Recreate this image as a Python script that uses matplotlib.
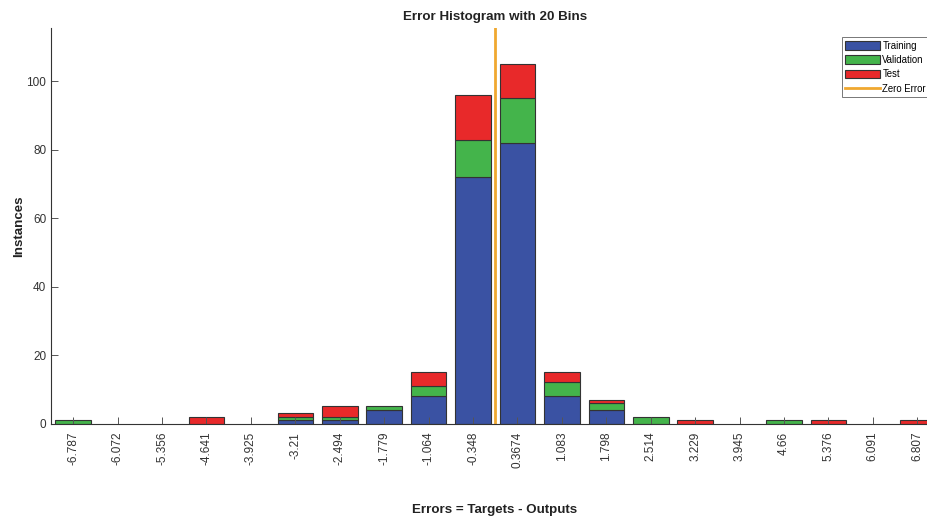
import matplotlib
matplotlib.use("Agg")
import matplotlib.pyplot as plt
import numpy as np

plt.rcParams['font.family'] = ['Liberation Sans', 'DejaVu Sans']

bin_labels = ['-6.787', '-6.072', '-5.356', '-4.641', '-3.925', '-3.21', '-2.494',
              '-1.779', '-1.064', '-0.348', '0.3674', '1.083', '1.798', '2.514',
              '3.229', '3.945', '4.66', '5.376', '6.091', '6.807']
training   = [0, 0, 0, 0, 0, 1, 1, 4, 8, 72, 82, 8, 4, 0, 0, 0, 0, 0, 0, 0]
validation = [1, 0, 0, 0, 0, 1, 1, 1, 3, 11, 13, 4, 2, 2, 0, 0, 1, 0, 0, 0]
test       = [0, 0, 0, 2, 0, 1, 3, 0, 4, 13, 10, 3, 1, 0, 1, 0, 0, 1, 0, 1]
zero_error = 0.0

c_train = '#3a52a3'
c_val = '#44b44b'
c_test = '#e8292a'
c_zero = '#f0a830'

centers = np.array([float(s) for s in bin_labels])
idx = np.arange(1, len(bin_labels) + 1)
tr = np.array(training)
va = np.array(validation)
te = np.array(test)

fig = plt.figure(figsize=(9.28, 5.17), dpi=100)
ax = fig.add_axes([51 / 928, 93.5 / 517, 888.5 / 928, 395.2 / 517])

w = 0.8
ec = '#333333'
lw = 0.8
h = []
for vals, bottom, col, lab in [(tr, 0 * tr, c_train, 'Training'),
                               (va, tr, c_val, 'Validation'),
                               (te, tr + va, c_test, 'Test')]:
    m = vals > 0
    b = ax.bar(idx[m], vals[m], w, bottom=bottom[m], color=col, edgecolor=ec,
               linewidth=lw, label=lab)
    h.append(b)

zpos = np.interp(zero_error, centers, idx)
zl = ax.axvline(zpos, color=c_zero, linewidth=2, label='Zero Error')
h.append(zl)

total = tr + va + te
ax.set_xlim(0.5, len(bin_labels) + 0.5)
ax.set_ylim(0, total.max() * 1.1)
ax.set_xticks(idx)
ax.set_xticklabels(bin_labels, rotation=90, fontsize=8.5, color='#333333')
ax.set_yticks([0, 20, 40, 60, 80, 100])
ax.set_yticklabels(['0', '20', '40', '60', '80', '100'], fontsize=8.5, color='#333333')
ax.tick_params(direction='in', length=5, width=0.7, colors='#555555', labelcolor='#333333')
ax.tick_params(axis='x', pad=6)
for s in ['top', 'right']:
    ax.spines[s].set_visible(False)
for s in ['left', 'bottom']:
    ax.spines[s].set_color('#333333')
    ax.spines[s].set_linewidth(0.8)

ax.set_title('Error Histogram with 20 Bins', fontsize=9.6, fontweight='bold', color='#222222', pad=6)
ax.set_ylabel('Instances', fontsize=9.6, fontweight='bold', color='#222222', va='center')
ax.yaxis.set_label_coords(-0.036, 0.5)
fig.text(495 / 928, 1 - 510 / 517, 'Errors = Targets - Outputs', fontsize=9.6,
         fontweight='bold', color='#222222', ha='center', va='center')

leg = ax.legend(handles=h, labels=['Training', 'Validation', 'Test', 'Zero Error'],
                loc='upper left', bbox_to_anchor=(841.7 / 928, 1 - 37.3 / 517),
                bbox_transform=fig.transFigure, fontsize=6.9, frameon=True, fancybox=False,
                borderaxespad=0, handlelength=3.6, handleheight=1.0, handletextpad=0.3,
                labelspacing=0.45, borderpad=0.35)
leg.get_frame().set_edgecolor('#555555')
leg.get_frame().set_linewidth(0.7)

fig.savefig('out.png', dpi=100)
